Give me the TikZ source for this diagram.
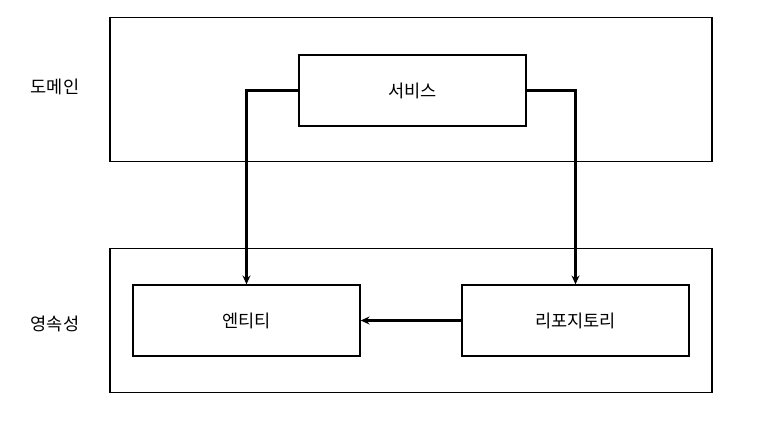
\documentclass[tikz,border=0pt]{standalone}
\usepackage{fontspec}
\setmainfont{Noto Sans CJK KR}
\usetikzlibrary{arrows.meta, positioning}

\begin{document}
\begin{tikzpicture}[
  x=0.02cm, y=-0.02cm,
  every node/.style={font=\fontsize{10}{12}\selectfont},
  layerbox/.style={draw, line width=0.8pt, minimum width=12.04cm, minimum height=2.88cm},
  compbox/.style={draw, line width=0.8pt, fill=white, minimum width=4.54cm, minimum height=1.42cm, align=center},
  flow/.style={->, line width=1.7pt},
  >={Stealth[length=5pt, width=4.5pt]}
]
\useasboundingbox (0,0) rectangle (773,439);

% layers
\node[layerbox] (domain) at (411, 89.5) {};
\node[layerbox] (persist) at (411, 320.5) {};

\node (domainlbl) at (55, 87) {도메인};
\node (persistlbl) at (55, 324) {영속성};

% components
\node[compbox] (service) at (412.5, 90.5) {서비스};
\node[compbox] (entity) at (246.5, 320.5) {엔티티};
\node[compbox] (repo) at (575.5, 320.5) {리포지토리};

% connectors
\draw[flow] (service.west) -| (entity.north);
\draw[flow] (service.east) -| (repo.north);
\draw[flow] (repo.west) -- (entity.east);

\end{tikzpicture}
\end{document}
